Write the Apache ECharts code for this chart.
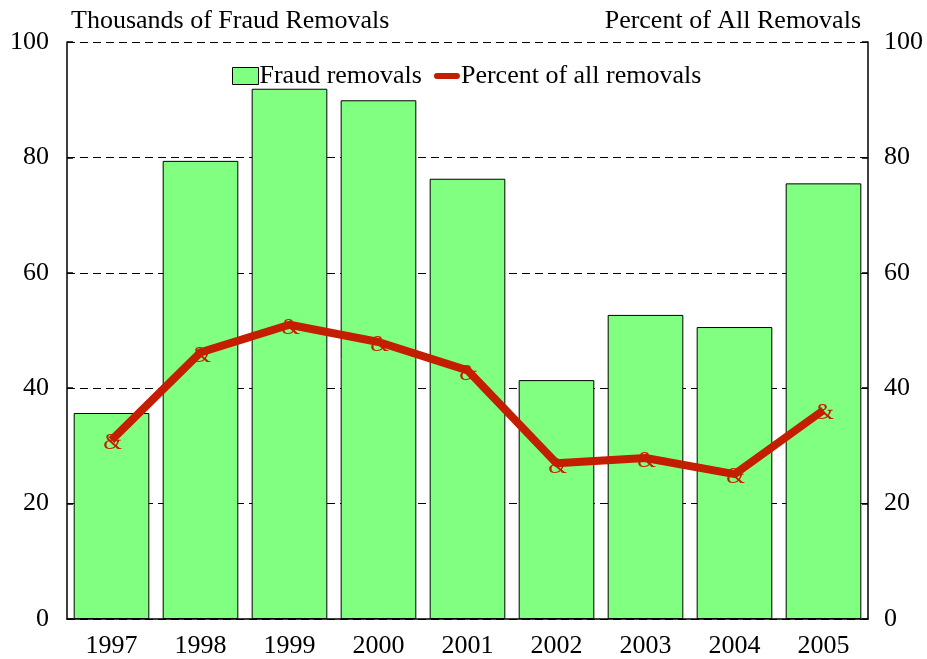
<!DOCTYPE html>
<html>
<head>
<meta charset="utf-8">
<script src="https://cdn.jsdelivr.net/npm/echarts@6/dist/echarts.min.js"></script>
<style>html,body{margin:0;padding:0;background:#fff;}#c{width:927px;height:659px;}</style>
</head>
<body>
<div id="c"></div>
<script>
var years = ['1997','1998','1999','2000','2001','2002','2003','2004','2005'];
var fraudRemovals = [35.7, 79.4, 91.9, 89.9, 76.3, 41.4, 52.7, 50.6, 75.5];
var percentAll = [31.0, 46.2, 51.0, 48.0, 43.1, 27.0, 27.9, 25.1, 36.2];
var yTicks = [0, 20, 40, 60, 80, 100];

var FONT = 'Liberation Serif';
var RED = '#c41e00';
var chart = echarts.init(document.getElementById('c'));
chart.setOption({
  animation: false,
  textStyle: { fontFamily: FONT },
  title: [
    { text: 'Thousands of Fraud Removals', left: 66, top: 3,
      textStyle: { fontFamily: FONT, fontSize: 26, fontWeight: 'normal', color: '#000' } },
    { text: 'Percent of All Removals', right: 61, top: 3,
      textStyle: { fontFamily: FONT, fontSize: 26, fontWeight: 'normal', color: '#000' } }
  ],
  legend: {
    left: 227, top: 58, itemGap: 12, itemWidth: 26, itemHeight: 17,
    textStyle: { fontFamily: FONT, fontSize: 26, color: '#000', padding: [0, 0, 0, -4] },
    data: [
      { name: 'Fraud removals', icon: 'rect', itemStyle: { color: '#80ff80', borderColor: '#000', borderWidth: 1 } },
      { name: 'Percent of all removals',
        icon: 'path://M4,6 L30,6 A4,4 0 0 1 30,14 L4,14 A4,4 0 0 1 4,6 Z M0,0 L0.01,0 Z M0,20 L0.01,20 Z M34,0 L34.01,0 Z',
        itemStyle: { color: RED } }
    ]
  },
  grid: { left: 67, right: 59, top: 42, bottom: 40 },
  xAxis: {
    type: 'category', data: years,
    axisLine: { show: true, lineStyle: { color: '#000', width: 1.5 } },
    axisTick: { show: false },
    axisLabel: { fontFamily: FONT, fontSize: 26, color: '#000', margin: 14 }
  },
  yAxis: [
    { type: 'value', min: 0, max: 100, interval: 20,
      axisLine: { show: true, lineStyle: { color: '#000', width: 1.5 } },
      axisTick: { show: true, inside: true, length: 6, lineStyle: { color: '#000', width: 1.5 } },
      axisLabel: { fontFamily: FONT, fontSize: 26, color: '#000', margin: 18,
        formatter: function (v) { return yTicks.indexOf(v) >= 0 ? String(v) : ''; } },
      splitLine: { show: true, lineStyle: { color: '#000', width: 1, type: [8, 5] } }
    },
    { type: 'value', min: 0, max: 100, interval: 20, position: 'right',
      axisLine: { show: true, lineStyle: { color: '#000', width: 1.5 } },
      axisTick: { show: true, inside: true, length: 6, lineStyle: { color: '#000', width: 1.5 } },
      axisLabel: { fontFamily: FONT, fontSize: 26, color: '#000', margin: 16,
        formatter: function (v) { return yTicks.indexOf(v) >= 0 ? String(v) : ''; } },
      splitLine: { show: false }
    }
  ],
  series: [
    { name: 'Fraud removals', type: 'bar', data: fraudRemovals, barCategoryGap: '15%',
      itemStyle: { color: '#80ff80', borderColor: '#000', borderWidth: 1 } },
    { name: 'Percent of all removals', type: 'line', yAxisIndex: 1, data: percentAll,
      symbol: 'circle', symbolSize: 1,
      lineStyle: { color: RED, width: 8 },
      itemStyle: { color: RED },
      label: { show: true, position: 'inside', formatter: '&', color: RED,
        fontFamily: FONT, fontSize: 24, offset: [1, 3] }
    }
  ]
});
</script>
</body>
</html>
